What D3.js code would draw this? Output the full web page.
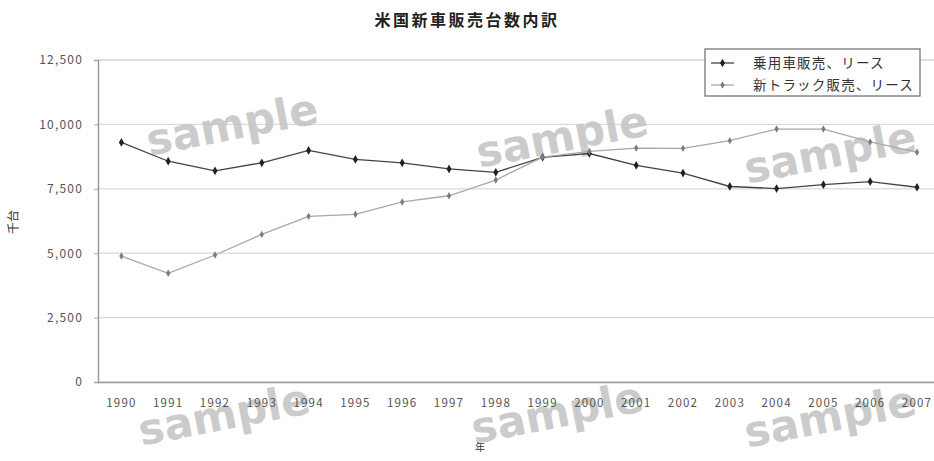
<!DOCTYPE html>
<html>
<head>
<meta charset="utf-8">
<script src="https://cdn.jsdelivr.net/npm/d3@7/dist/d3.min.js"></script>
<style>
  html, body { margin: 0; padding: 0; background: #fff; }
  svg { display: block; }
  text { font-family: "Noto Sans CJK JP", "Noto Sans", sans-serif; }
</style>
</head>
<body>
<div id="chart"></div>
<script>
// 米国新車販売台数内訳（千台）
const years = ["1990","1991","1992","1993","1994","1995","1996","1997","1998",
               "1999","2000","2001","2002","2003","2004","2005","2006","2007"];
const passengerCars = [9300, 8570, 8200, 8510, 8990, 8640, 8510, 8270, 8140,
                       8720, 8870, 8410, 8110, 7590, 7510, 7660, 7780, 7560];
const lightTrucks   = [4890, 4220, 4930, 5730, 6430, 6510, 6990, 7230, 7840,
                       8730, 8950, 9080, 9070, 9370, 9820, 9820, 9320, 8920];
const yTicks = [0, 2500, 5000, 7500, 10000, 12500];
const seriesNames = ["乗用車販売、リース", "新トラック販売、リース"];
const chartTitle = "米国新車販売台数内訳";
const yTitle = "千台";
const xTitle = "年";

const W = 934, H = 461;
const margin = { top: 60, left: 98 };
const plotH = 322;
const band = 46.8;

const svg = d3.select("#chart").append("svg")
  .attr("width", W).attr("height", H);

const x = d3.scaleBand()
  .domain(years)
  .range([margin.left, margin.left + band * years.length])
  .padding(0);
const cx = d => x(d) + x.bandwidth() / 2;

const y = d3.scaleLinear()
  .domain([0, 12500])
  .range([margin.top + plotH, margin.top]);

// horizontal gridlines
svg.append("g")
  .selectAll("line")
  .data(yTicks)
  .join("line")
  .attr("x1", margin.left).attr("x2", x.range()[1])
  .attr("y1", d => y(d)).attr("y2", d => y(d))
  .attr("stroke", d => d === 12500 ? "#bdbdbd" : "#d9d9d9")
  .attr("stroke-width", 1.2);

// "sample" stamps, under the data lines
const marks = [[232, 124], [562, 136], [830, 152], [224, 414], [557, 412], [830, 416]];
svg.append("g")
  .selectAll("text")
  .data(marks)
  .join("text")
  .attr("transform", d => `translate(${d[0]},${d[1]}) rotate(-11)`)
  .attr("text-anchor", "middle").attr("dy", "0.36em")
  .style("font-family", "'DejaVu Sans', sans-serif")
  .style("font-size", "43px").style("font-weight", "bold")
  .style("fill", "#c2c2c2").style("fill-opacity", 0.85)
  .text("sample");

// y axis
const yAxis = svg.append("g")
  .attr("transform", `translate(${margin.left},0)`)
  .call(d3.axisLeft(y).tickValues(yTicks).tickFormat(d3.format(",")).tickSize(4).tickPadding(11));
yAxis.select(".domain").attr("stroke", "#999").attr("stroke-width", 1.4);
yAxis.selectAll(".tick line").attr("stroke", "#aaa");
yAxis.selectAll("text")
  .style("font-size", "12px").style("letter-spacing", "1.2px")
  .style("fill", "#555");

// x axis
const xAxis = svg.append("g")
  .attr("transform", `translate(0,${margin.top + plotH})`)
  .call(d3.axisBottom(x).tickSize(0).tickPadding(17));
xAxis.select(".domain").attr("stroke", "#999").attr("stroke-width", 1.4);
xAxis.selectAll("text")
  .style("font-size", "11.5px").style("letter-spacing", "1.2px")
  .style("fill", "#555");

// lines
const line = d3.line().x((d, i) => cx(years[i])).y(d => y(d));
const series = [
  { name: seriesNames[0], values: passengerCars, stroke: "#444", mark: "#222", size: 22 },
  { name: seriesNames[1], values: lightTrucks,   stroke: "#a8a8a8", mark: "#7c7c7c", size: 16 }
];
const sym = d3.symbol().type(d3.symbolDiamond);

series.forEach(s => {
  svg.append("path")
    .datum(s.values)
    .attr("d", line)
    .attr("fill", "none")
    .attr("stroke", s.stroke)
    .attr("stroke-width", 1.3);
  svg.append("g")
    .selectAll("path")
    .data(s.values)
    .join("path")
    .attr("transform", (d, i) => `translate(${cx(years[i])},${y(d)})`)
    .attr("d", sym.size(s.size))
    .attr("fill", s.mark);
});

// legend
const lg = svg.append("g").attr("transform", "translate(705,49)");
lg.append("rect")
  .attr("width", 215).attr("height", 47)
  .attr("fill", "#fff").attr("stroke", "#777").attr("stroke-width", 1.3);
series.forEach((s, i) => {
  const ry = 14 + i * 22;
  lg.append("line")
    .attr("x1", 6).attr("x2", 29).attr("y1", ry).attr("y2", ry)
    .attr("stroke", s.stroke).attr("stroke-width", 1.3);
  lg.append("path")
    .attr("transform", `translate(17.5,${ry})`)
    .attr("d", sym.size(s.size))
    .attr("fill", s.mark);
  lg.append("text")
    .attr("x", 48).attr("y", ry)
    .attr("dy", "0.36em")
    .style("font-size", "13.5px").style("letter-spacing", "1.2px")
    .style("fill", "#333")
    .text(s.name);
});

// titles
svg.append("text")
  .attr("x", W / 2).attr("y", 20)
  .attr("text-anchor", "middle").attr("dy", "0.36em")
  .style("font-size", "16px").style("font-weight", "bold").style("letter-spacing", "2.5px")
  .style("fill", "#222")
  .text(chartTitle);

svg.append("text")
  .attr("transform", "translate(14,222) rotate(-90)")
  .attr("text-anchor", "middle").attr("dy", "0.36em")
  .style("font-size", "12px")
  .style("fill", "#333")
  .text(yTitle);

svg.append("text")
  .attr("x", 480).attr("y", 447)
  .attr("text-anchor", "middle").attr("dy", "0.36em")
  .style("font-size", "10px")
  .style("fill", "#333")
  .text(xTitle);
</script>
</body>
</html>
